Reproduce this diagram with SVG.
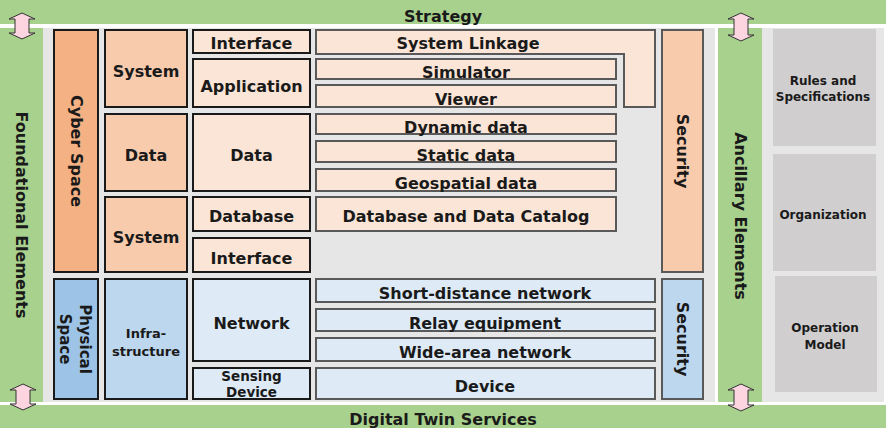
<svg xmlns="http://www.w3.org/2000/svg" width="886" height="439" viewBox="0 0 886 439">
<style>
text{font-family:"DejaVu Sans","Verdana",sans-serif;font-weight:bold;fill:#1a1a1a;text-anchor:middle;dominant-baseline:central;font-size:16px}
.s13{font-size:13px}
.s12{font-size:12px}
.s15{font-size:15px}
.s14{font-size:13.5px}
.green{fill:#a9d18e}
.panel{fill:#e7e6e6}
.k{stroke:#1a1a1a;stroke-width:2}
.g{stroke:#595959;stroke-width:2}
.c1{fill:#f4b183}
.c2{fill:#f8cbad}
.c3{fill:#fbe5d6}
.p1{fill:#9dc3e6}
.p2{fill:#bdd7ee}
.p3{fill:#deebf7}
.gb{fill:#d0cece}
.arrow{fill:#fcd5e0;stroke:#333;stroke-width:1}
</style>
<rect width="886" height="439" fill="#ffffff"/>
<g id="strategy"><rect class="green" x="0" y="0" width="886" height="24"/><text x="443" y="16">Strategy</text></g>
<g id="services"><rect class="green" x="0" y="405" width="886" height="23"/><text x="443" y="419">Digital Twin Services</text></g>
<g id="foundational"><rect class="green" x="0" y="28" width="43" height="374"/><text transform="translate(21,215) rotate(90)">Foundational Elements</text></g>
<rect class="panel" x="43" y="28" width="672" height="374"/>
<g id="ancillary"><rect class="green" x="718" y="28" width="44" height="374"/><text transform="translate(740,216) rotate(90)">Ancillary Elements</text></g>
<rect class="panel" x="762" y="28" width="122" height="374"/>

<g id="cyber-space"><rect class="c1 k" x="54" y="30" width="44" height="242"/><text transform="translate(76,151) rotate(90)">Cyber Space</text></g>
<g id="physical-space"><rect class="p1 k" x="54" y="279" width="44" height="120"/><text class="s15" transform="translate(75,339) rotate(90)"><tspan x="0" y="-10">Physical</tspan><tspan x="0" y="10">Space</tspan></text></g>

<g id="system-1"><rect class="c2 k" x="105" y="30" width="82" height="77"/><text x="146" y="71">System</text></g>
<g id="data-1"><rect class="c2 k" x="105" y="114" width="82" height="77"/><text x="146" y="155">Data</text></g>
<g id="system-2"><rect class="c2 k" x="105" y="197" width="82" height="75"/><text x="146" y="237">System</text></g>
<g id="infrastructure"><rect class="p2 k" x="105" y="279" width="82" height="120"/><text class="s13" x="146" y="333">Infra-</text><text class="s13" x="146" y="351">structure</text></g>

<g id="interface-1"><rect class="c3 k" x="193" y="30" width="117" height="23"/><text x="251.5" y="43">Interface</text></g>
<g id="application"><rect class="c3 k" x="193" y="59" width="117" height="48"/><text x="251.5" y="86">Application</text></g>
<g id="data-2"><rect class="c3 k" x="193" y="114" width="117" height="77"/><text x="251.5" y="155">Data</text></g>
<g id="database"><rect class="c3 k" x="193" y="197" width="117" height="34"/><text x="251.5" y="216">Database</text></g>
<g id="interface-2"><rect class="c3 k" x="193" y="238" width="117" height="34"/><text x="251.5" y="258">Interface</text></g>
<g id="network"><rect class="p3 k" x="193" y="279" width="117" height="82"/><text x="251.5" y="323">Network</text></g>
<g id="sensing-device"><rect class="p3 k" x="193" y="368" width="117" height="31"/><text class="s14" x="251.5" y="376">Sensing</text><text class="s14" x="251.5" y="392">Device</text></g>

<g id="system-linkage"><path class="c3 g" d="M316,30 H655 V107 H624 V54 H316 Z"/><text x="468" y="43">System Linkage</text></g>
<g id="simulator"><rect class="c3 g" x="316" y="59" width="300" height="20"/><text x="466" y="72">Simulator</text></g>
<g id="viewer"><rect class="c3 g" x="316" y="85" width="300" height="22"/><text x="466" y="99">Viewer</text></g>
<g id="dynamic-data"><rect class="c3 g" x="316" y="114" width="300" height="20"/><text x="466" y="127">Dynamic data</text></g>
<g id="static-data"><rect class="c3 g" x="316" y="141" width="300" height="21"/><text x="466" y="155">Static data</text></g>
<g id="geospatial-data"><rect class="c3 g" x="316" y="169" width="300" height="22"/><text x="466" y="183">Geospatial data</text></g>
<g id="catalog"><rect class="c3 g" x="316" y="197" width="300" height="34"/><text x="466" y="216">Database and Data Catalog</text></g>
<g id="short-distance"><rect class="p3 g" x="316" y="279" width="339" height="23"/><text x="485" y="293">Short-distance network</text></g>
<g id="relay"><rect class="p3 g" x="316" y="309" width="339" height="22"/><text x="485" y="323">Relay equipment</text></g>
<g id="wide-area"><rect class="p3 g" x="316" y="338" width="339" height="23"/><text x="485" y="352">Wide-area network</text></g>
<g id="device"><rect class="p3 g" x="316" y="368" width="339" height="31"/><text x="485" y="386">Device</text></g>

<g id="security-cyber"><rect class="c2 g" x="662" y="30" width="41" height="242"/><text transform="translate(682,151) rotate(90)">Security</text></g>
<g id="security-physical"><rect class="p2 g" x="662" y="279" width="41" height="120"/><text transform="translate(682,339) rotate(90)">Security</text></g>

<g id="rules"><rect class="gb" x="773" y="29" width="103" height="117"/><text class="s12" x="823" y="81">Rules and</text><text class="s12" x="823" y="97">Specifications</text></g>
<g id="organization"><rect class="gb" x="773" y="154" width="103" height="117"/><text class="s12" x="823" y="215">Organization</text></g>
<g id="operation-model"><rect class="gb" x="775" y="276" width="102" height="116"/><text class="s12" x="825" y="328">Operation</text><text class="s12" x="825" y="345">Model</text></g>

<g id="connectors">
<polygon class="arrow" points="22,13 35,19 29,19 29,33 35,33 22,39 9,33 15,33 15,19 9,19"/>
<polygon class="arrow" points="23,384 36,390 30,390 30,404 36,404 23,410 10,404 16,404 16,390 10,390"/>
<polygon class="arrow" points="741,13 754,19 748,19 748,35 754,35 741,41 728,35 734,35 734,19 728,19"/>
<polygon class="arrow" points="741,384 754,390 748,390 748,405 754,405 741,411 728,405 734,405 734,390 728,390"/>
</g>
</svg>
